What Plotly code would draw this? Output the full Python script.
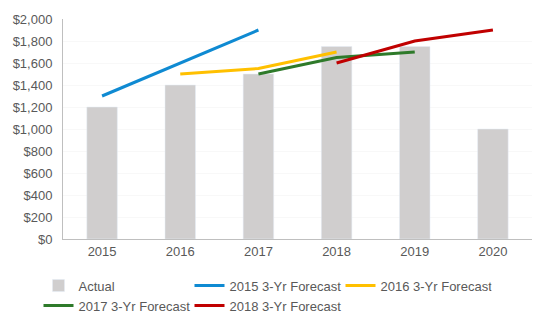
import plotly.graph_objects as go

years = ["2015", "2016", "2017", "2018", "2019", "2020"]
actual = [1200, 1400, 1500, 1750, 1750, 1000]

f2015_x = ["2015", "2016", "2017"]
f2015_y = [1300, 1600, 1900]
f2016_x = ["2016", "2017", "2018"]
f2016_y = [1500, 1550, 1700]
f2017_x = ["2017", "2018", "2019"]
f2017_y = [1500, 1650, 1700]
f2018_x = ["2018", "2019", "2020"]
f2018_y = [1600, 1800, 1900]

tick_vals = list(range(0, 2001, 200))
tick_text = ["$" + format(v, ",") for v in tick_vals]

fig = go.Figure()
fig.add_trace(go.Bar(x=years, y=actual, name="Actual", marker_color="#d0cece"))
line_specs = [
    ("2015 3-Yr Forecast", f2015_x, f2015_y, "#0f8ad2"),
    ("2016 3-Yr Forecast", f2016_x, f2016_y, "#ffc000"),
    ("2017 3-Yr Forecast", f2017_x, f2017_y, "#2e7a2a"),
    ("2018 3-Yr Forecast", f2018_x, f2018_y, "#c00000"),
]
for name, xs, ys, col in line_specs:
    fig.add_trace(go.Scatter(x=xs, y=ys, name=name, mode="lines",
                             line=dict(color=col, width=3)))

fig.update_layout(
    width=550, height=330,
    margin=dict(l=63, r=18, t=15, b=90),
    paper_bgcolor="white", plot_bgcolor="white",
    font=dict(family="Liberation Sans, Arial, sans-serif", size=13, color="#595959"),
    bargap=0.61,
    showlegend=True,
    legend=dict(orientation="h", xref="container", yref="container",
                x=0.07, y=0.18, xanchor="left", yanchor="top",
                entrywidth=106, entrywidthmode="pixels",
                font=dict(size=13, color="#595959"), tracegroupgap=0,
                traceorder="normal"),
)
fig.update_xaxes(type="category", categoryorder="array", categoryarray=years,
                 showline=True, linecolor="#bfbfbf", linewidth=1,
                 ticks="", showgrid=False, tickfont=dict(size=13, color="#595959"))
fig.update_yaxes(range=[0, 2000], tickvals=tick_vals, ticktext=tick_text,
                 showline=True, linecolor="#bfbfbf", linewidth=1,
                 showgrid=True, gridcolor="#f8f8f8", zeroline=False,
                 ticklabelstandoff=7,
                 tickfont=dict(size=13, color="#595959"))

fig.write_html("out.html")
